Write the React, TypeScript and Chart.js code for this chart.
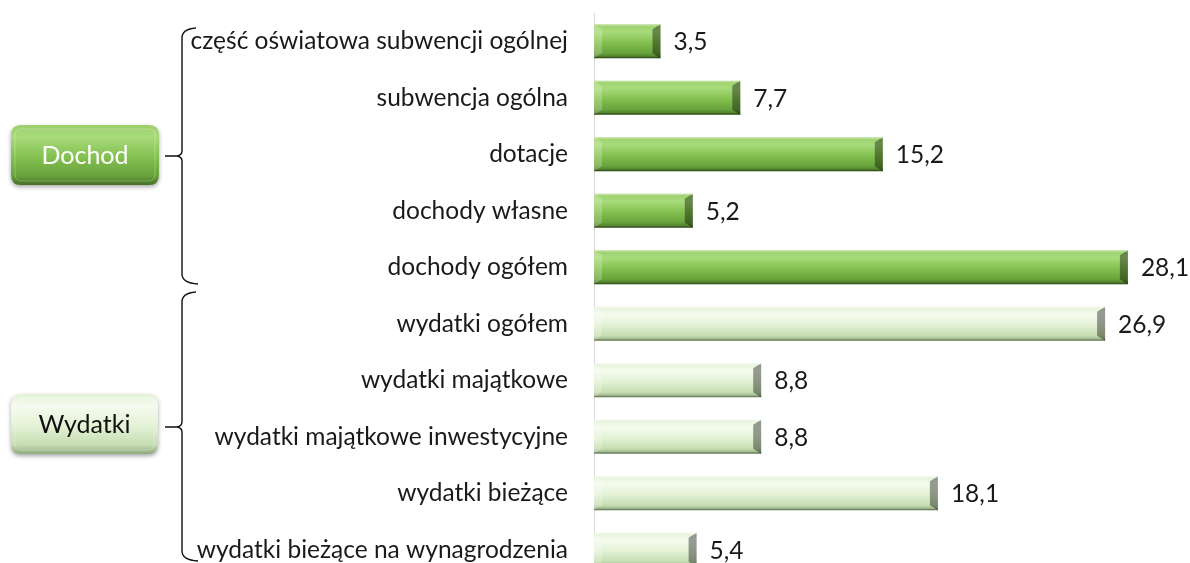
import React, { useEffect, useRef } from "react";
import { Chart, registerables } from "chart.js";

Chart.register(...registerables);

const categories = [
  "część oświatowa subwencji ogólnej",
  "subwencja ogólna",
  "dotacje",
  "dochody własne",
  "dochody ogółem",
  "wydatki ogółem",
  "wydatki majątkowe",
  "wydatki majątkowe inwestycyjne",
  "wydatki bieżące",
  "wydatki bieżące na wynagrodzenia",
];
const values = [3.5, 7.7, 15.2, 5.2, 28.1, 26.9, 8.8, 8.8, 18.1, 5.4];
const valueLabels = ["3,5", "7,7", "15,2", "5,2", "28,1", "26,9", "8,8", "8,8", "18,1", "5,4"];
const groupOf = [0, 0, 0, 0, 0, 1, 1, 1, 1, 1];
const groupNames = ["Dochod", "Wydatki"];
const xMax = 30;

const FONT = "Lato, 'Open Sans', sans-serif";
const TEXT = "#1a1a1a";
const FSIZE = 24.5;

const DARK = ["#9ccf6c", "#a8db7a", "#82bf4f", "#68a23b", "#456e27"];
const LIGHT = ["#e4f2d8", "#f5fbef", "#e2f1d4", "#c6ddb2", "#8fa87c"];

function poly(ctx: CanvasRenderingContext2D, pts: number[][], fill: string) {
  ctx.beginPath();
  ctx.moveTo(pts[0][0], pts[0][1]);
  for (let i = 1; i < pts.length; i++) ctx.lineTo(pts[i][0], pts[i][1]);
  ctx.closePath();
  ctx.fillStyle = fill;
  ctx.fill();
}

function bevelBar(ctx: CanvasRenderingContext2D, x0: number, x1: number, y0: number, y1: number, pal: string[]) {
  const g = ctx.createLinearGradient(0, y0, 0, y1);
  g.addColorStop(0, pal[0]);
  g.addColorStop(0.22, pal[1]);
  g.addColorStop(0.55, pal[2]);
  g.addColorStop(0.85, pal[3]);
  g.addColorStop(1, pal[4]);
  ctx.fillStyle = g;
  ctx.fillRect(x0, y0, x1 - x0, y1 - y0);
  const b = Math.min(8, (x1 - x0) / 2);
  const bv = 5;
  poly(ctx, [[x0, y0], [x0 + b, y0 + bv], [x0 + b, y1 - bv], [x0, y1]], "rgba(255,255,255,0.22)");
  poly(ctx, [[x1, y0], [x1 - b, y0 + bv], [x1 - b, y1 - bv], [x1, y1]], "rgba(0,0,0,0.38)");
  ctx.fillStyle = "rgba(255,255,255,0.35)";
  ctx.fillRect(x0, y0, x1 - x0, 1.5);
  ctx.fillStyle = "rgba(0,0,0,0.25)";
  ctx.fillRect(x0, y1 - 1.5, x1 - x0, 1.5);
}

function roundRect(ctx: CanvasRenderingContext2D, x: number, y: number, w: number, h: number, r: number) {
  ctx.beginPath();
  ctx.moveTo(x + r, y);
  ctx.lineTo(x + w - r, y);
  ctx.quadraticCurveTo(x + w, y, x + w, y + r);
  ctx.lineTo(x + w, y + h - r);
  ctx.quadraticCurveTo(x + w, y + h, x + w - r, y + h);
  ctx.lineTo(x + r, y + h);
  ctx.quadraticCurveTo(x, y + h, x, y + h - r);
  ctx.lineTo(x, y + r);
  ctx.quadraticCurveTo(x, y, x + r, y);
  ctx.closePath();
}

function drawBox(ctx: CanvasRenderingContext2D, x: number, y: number, w: number, h: number, pal: string[], text: string, color: string) {
  ctx.save();
  ctx.shadowColor = "rgba(0,0,0,0.35)";
  ctx.shadowBlur = 4;
  ctx.shadowOffsetY = 2;
  roundRect(ctx, x, y, w, h, 10);
  const g = ctx.createLinearGradient(0, y, 0, y + h);
  g.addColorStop(0, pal[0]);
  g.addColorStop(0.2, pal[1]);
  g.addColorStop(0.55, pal[2]);
  g.addColorStop(0.85, pal[3]);
  g.addColorStop(1, pal[4]);
  ctx.fillStyle = g;
  ctx.fill();
  ctx.restore();
  ctx.save();
  roundRect(ctx, x + 4, y + 4, w - 8, h - 8, 7);
  ctx.strokeStyle = "rgba(255,255,255,0.25)";
  ctx.lineWidth = 1;
  ctx.stroke();
  ctx.fillStyle = color;
  ctx.font = "25px " + FONT;
  ctx.textAlign = "center";
  ctx.textBaseline = "middle";
  ctx.fillText(text, x + w / 2, y + h / 2 + 1);
  ctx.restore();
}

function drawBrace(ctx: CanvasRenderingContext2D, x: number, yTop: number, yBot: number, yTip: number, tipX: number) {
  ctx.save();
  ctx.strokeStyle = "#111";
  ctx.lineWidth = 1.4;
  ctx.beginPath();
  ctx.moveTo(x + 14, yTop - 2);
  ctx.quadraticCurveTo(x, yTop - 1, x, yTop + 8);
  ctx.lineTo(x, yTip - 5);
  ctx.quadraticCurveTo(x, yTip - 1, x - 5, yTip);
  ctx.lineTo(tipX, yTip);
  ctx.moveTo(x - 5, yTip);
  ctx.quadraticCurveTo(x, yTip + 1, x, yTip + 5);
  ctx.lineTo(x, yBot - 8);
  ctx.quadraticCurveTo(x, yBot + 1, x + 16, yBot + 2);
  ctx.stroke();
  ctx.restore();
}

const drawPlugin = {
  id: "bevelBars",
  afterDatasetsDraw(chart: any) {
    const ctx = chart.ctx as CanvasRenderingContext2D;
    const meta = chart.getDatasetMeta(0);
    ctx.save();
    meta.data.forEach((el: any, i: number) => {
      const { x, y, base, height } = el.getProps(["x", "y", "base", "height"], true);
      const pal = groupOf[i] === 0 ? DARK : LIGHT;
      bevelBar(ctx, Math.min(base, x), Math.max(base, x), y - height / 2, y + height / 2, pal);
      ctx.fillStyle = TEXT;
      ctx.font = FSIZE + "px " + FONT;
      ctx.textAlign = "left";
      ctx.textBaseline = "middle";
      ctx.fillText(valueLabels[i], x + 13, y + 1);
    });
    ctx.restore();
  },
  afterDraw(chart: any) {
    const ctx = chart.ctx as CanvasRenderingContext2D;
    drawBrace(ctx, 182, 30, 282, 156, 165);
    drawBrace(ctx, 182, 294, 559, 427, 165);
    drawBox(ctx, 11, 125, 148, 60, DARK, groupNames[0], "#ffffff");
    drawBox(ctx, 11, 394, 147, 60, LIGHT, groupNames[1], "#111111");
  },
};

export default function App() {
  const ref = useRef<HTMLCanvasElement>(null);
  useEffect(() => {
    const canvas = ref.current!;
    const chart = new Chart(canvas, {
      type: "bar",
      data: {
        labels: categories,
        datasets: [
          {
            data: values,
            backgroundColor: "rgba(0,0,0,0)",
            borderWidth: 0,
            barThickness: 34,
          },
        ],
      },
      options: {
        indexAxis: "y",
        animation: false,
        responsive: false,
        maintainAspectRatio: false,
        layout: { padding: { top: 13, right: 26, bottom: 0, left: 0 } },
        plugins: { legend: { display: false }, tooltip: { enabled: false } },
        scales: {
          x: { display: false, min: 0, max: xMax },
          y: {
            afterFit: (s: any) => {
              s.width = 594;
              s.paddingTop = 0;
              s.paddingBottom = 0;
            },
            grid: { display: false, drawTicks: false },
            border: { display: true, color: "#d9d9d9", width: 1 },
            ticks: {
              padding: 26,
              color: TEXT,
              font: { family: FONT, size: FSIZE },
            },
          },
        },
      },
      plugins: [drawPlugin],
    });
    return () => chart.destroy();
  }, []);
  return (
    <div style={{ position: "absolute", left: 0, top: 0, width: 1190, height: 563, overflow: "hidden", background: "#fff" }}>
      <canvas ref={ref} width={1190} height={578} style={{ display: "block", width: 1190, height: 578 }} />
    </div>
  );
}
